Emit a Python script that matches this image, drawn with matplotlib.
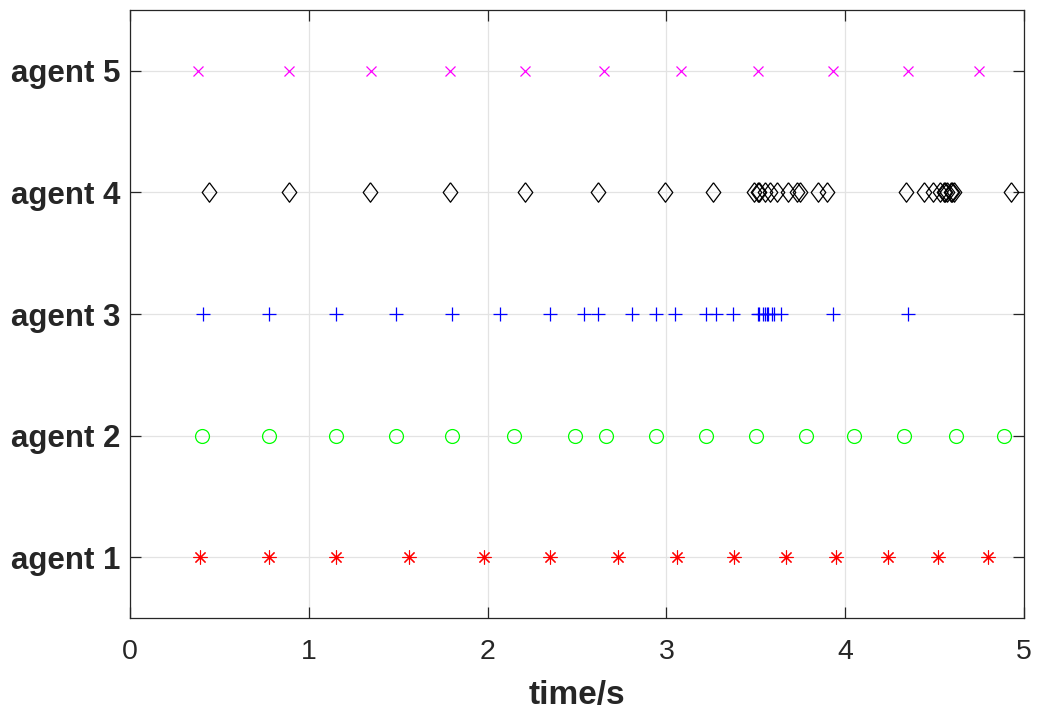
import matplotlib
matplotlib.use("Agg")
import matplotlib.pyplot as plt
import numpy as np

plt.rcParams['font.family'] = ['Liberation Sans', 'DejaVu Sans']

agent_labels = ["agent 1", "agent 2", "agent 3", "agent 4", "agent 5"]

agent1_t = [0.39, 0.78, 1.15, 1.56, 1.98, 2.35, 2.73, 3.06, 3.38, 3.67, 3.95, 4.24, 4.52, 4.80]
agent2_t = [0.40, 0.78, 1.15, 1.49, 1.80, 2.15, 2.49, 2.66, 2.94, 3.22, 3.50, 3.78, 4.05, 4.33, 4.62, 4.89]
agent3_t = [0.41, 0.78, 1.15, 1.49, 1.80, 2.07, 2.35, 2.54, 2.62, 2.81, 2.94, 3.05, 3.22, 3.28, 3.37,
            3.51, 3.52, 3.54, 3.55, 3.56, 3.57, 3.59, 3.60, 3.64, 3.93, 4.35]
agent4_t = [0.44, 0.89, 1.34, 1.79, 2.21, 2.62, 2.99, 3.26,
            3.49, 3.51, 3.52, 3.55, 3.58, 3.62, 3.68, 3.73, 3.75, 3.85, 3.90,
            4.34, 4.44, 4.49, 4.53, 4.55, 4.56, 4.57, 4.59, 4.60, 4.61, 4.93]
agent5_t = [0.38, 0.89, 1.35, 1.79, 2.21, 2.65, 3.08, 3.51, 3.93, 4.35, 4.75]

x_ticks = [0, 1, 2, 3, 4, 5]

fig = plt.figure(figsize=(10.4, 7.18), dpi=100)
ax = fig.add_axes([0.125, 0.1393, 0.8596, 0.8467])

diamond = [(0, 1), (0.75, 0), (0, -1), (-0.75, 0), (0, 1)]
asterisk = (8, 2, 0)

ax.plot(agent1_t, np.full(len(agent1_t), 1), linestyle='none', marker=asterisk,
        ms=10, mec='#ff0000', mfc='none', mew=0.8)
ax.plot(agent2_t, np.full(len(agent2_t), 2), linestyle='none', marker='o',
        ms=10, mec='#00ff00', mfc='none', mew=0.9)
ax.plot(agent3_t, np.full(len(agent3_t), 3), linestyle='none', marker='+',
        ms=9.5, mec='#0000ff', mew=0.9)
ax.plot(agent4_t, np.full(len(agent4_t), 4), linestyle='none', marker=diamond,
        ms=14, mec='#000000', mfc='none', mew=0.9)
ax.plot(agent5_t, np.full(len(agent5_t), 5), linestyle='none', marker='x',
        ms=7.5, mec='#ff00ff', mew=0.9)

ax.set_xlim(0, 5)
ax.set_ylim(0.5, 5.5)
ax.set_xticks(x_ticks)
ax.set_xticklabels([str(t) for t in x_ticks])
ax.set_yticks([1, 2, 3, 4, 5])
ax.set_yticklabels(agent_labels, fontweight='bold')

ax.grid(True, color='#e3e3e3', linewidth=0.9)
ax.set_axisbelow(True)

axis_col = '#262626'
for s in ax.spines.values():
    s.set_color(axis_col)
    s.set_linewidth(0.9)
ax.tick_params(axis='both', direction='in', colors=axis_col,
               length=8, width=0.9, top=True, right=True)
ax.tick_params(axis='y', labelsize=22.5, pad=7)
ax.tick_params(axis='x', labelsize=20.5, pad=15)
for lbl in ax.get_yticklabels():
    lbl.set_fontweight('bold')

ax.set_xlabel('time/s', fontsize=24, fontweight='bold', color=axis_col, labelpad=11)

fig.savefig('out.png', dpi=100)
